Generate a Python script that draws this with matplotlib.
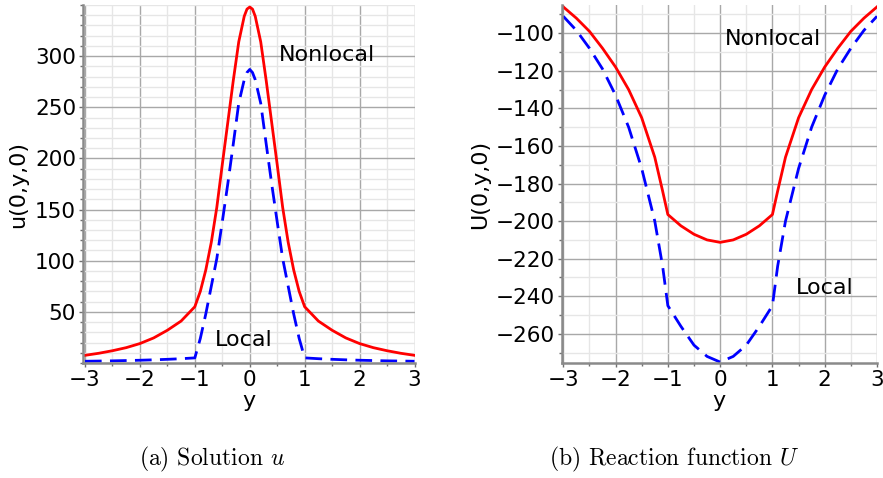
import matplotlib
matplotlib.use("Agg")
import matplotlib.pyplot as plt
from matplotlib.ticker import FixedLocator, MultipleLocator

# panel (a): solution u(0, y, 0)
y_u = [-3.0, -2.75, -2.5, -2.25, -2.0, -1.75, -1.5, -1.25,
       -1.0, -0.9, -0.8, -0.7, -0.6, -0.5, -0.4, -0.3, -0.2, -0.1, -0.05,
       0.0, 0.05, 0.1, 0.2, 0.3, 0.4, 0.5, 0.6, 0.7, 0.8, 0.9, 1.0,
       1.25, 1.5, 1.75, 2.0, 2.25, 2.5, 2.75, 3.0]
u_nonlocal = [7.5, 9.5, 12, 15, 19, 24.5, 32, 41,
              55, 70, 91, 118, 152, 194, 235, 276, 314, 339, 346,
              348, 346, 339, 314, 276, 235, 194, 152, 118, 91, 70, 55,
              41, 32, 24.5, 19, 15, 12, 9.5, 7.5]
u_local = [1.7, 1.9, 2.1, 2.4, 2.7, 3.1, 3.6, 4.2,
           5, 24, 48, 75, 102, 138, 175, 214, 254, 277, 284,
           287, 284, 277, 254, 214, 175, 138, 102, 75, 48, 24, 5,
           4.2, 3.6, 3.1, 2.7, 2.4, 2.1, 1.9, 1.7]

# panel (b): reaction function U(0, y, 0)
y_U = [-3.0, -2.75, -2.5, -2.25, -2.0, -1.75, -1.5, -1.25, -1.1,
       -1.0, -0.75, -0.5, -0.25, 0.0, 0.25, 0.5, 0.75, 1.0,
       1.1, 1.25, 1.5, 1.75, 2.0, 2.25, 2.5, 2.75, 3.0]
U_nonlocal = [-86, -92, -99, -108, -118, -130, -145, -166, -184,
              -196.5, -202.5, -207, -210, -211.3, -210, -207, -202.5, -196.5,
              -184, -166, -145, -130, -118, -108, -99, -92, -86]
U_local = [-91, -98.5, -108, -119, -133, -150, -172, -200, -224,
           -245, -256, -266, -272, -275, -272, -266, -256, -245,
           -224, -200, -172, -150, -133, -119, -108, -98.5, -91]

u_yticks = [50, 100, 150, 200, 250, 300]
U_yticks = [-100, -120, -140, -160, -180, -200, -220, -240, -260]
x_ticks = [-3, -2, -1, 0, 1, 2, 3]

plt.rcParams["mathtext.fontset"] = "cm"

W, H = 883, 478
fig = plt.figure(figsize=(W / 100, H / 100), dpi=100)
ax1 = fig.add_axes([83 / W, 115 / H, 331.5 / W, 358 / H])
ax2 = fig.add_axes([561.7 / W, 115 / H, 315.3 / W, 358 / H])


def style_axes(ax, yticks, ylim, xlim_left):
    ax.set_xlim(xlim_left, 3.0)
    ax.set_ylim(*ylim)
    ax.xaxis.set_major_locator(FixedLocator(x_ticks))
    ax.xaxis.set_minor_locator(MultipleLocator(0.5))
    ax.yaxis.set_major_locator(FixedLocator(yticks))
    ax.yaxis.set_minor_locator(MultipleLocator(10))
    ax.grid(True, which="major", color="#a8a8a8", linewidth=1.0)
    ax.grid(True, which="minor", color="#e6e6e6", linewidth=1.0)
    ax.set_axisbelow(True)
    for side in ("top", "right"):
        ax.spines[side].set_visible(False)
    for side in ("left", "bottom"):
        ax.spines[side].set_color("#8a8a8a")
        ax.spines[side].set_linewidth(1.8)
    ax.tick_params(which="major", length=3, width=1, color="#707070",
                   labelsize=15.5, pad=2)
    ax.tick_params(which="minor", length=2, width=1, color="#707070")
    ax.set_xlabel("y", fontsize=16, labelpad=1)


ax1.plot(y_u, u_nonlocal, color="red", linewidth=2.0)
ax1.plot(y_u, u_local, color="blue", linewidth=2.0, linestyle=(0, (6, 3)))
style_axes(ax1, u_yticks, (0, 350), -3.036)
ax1.set_ylabel("u(0,y,0)", fontsize=16, labelpad=5)
ax1.text(0.53, 301, "Nonlocal", fontsize=16, va="center", ha="left")
ax1.text(-0.64, 22.5, "Local", fontsize=16, va="center", ha="left")

ax2.plot(y_U, U_nonlocal, color="red", linewidth=2.0)
ax2.plot(y_U, U_local, color="blue", linewidth=2.0, linestyle=(0, (6, 3)))
style_axes(ax2, U_yticks, (-275.5, -85), -3.03)
ax2.set_ylabel("U(0,y,0)", fontsize=16, labelpad=4)
ax2.text(0.086, -103.2, "Nonlocal", fontsize=16, va="center", ha="left")
ax2.text(1.45, -235.6, "Local", fontsize=16, va="center", ha="left")

fig.text(212 / W, 1 - 459 / H, r"(a) Solution $u$", fontsize=17,
         family="cmr10", ha="center", va="center")
fig.text(674 / W, 1 - 459 / H, r"(b) Reaction function $U$", fontsize=17,
         family="cmr10", ha="center", va="center")

fig.savefig("out.png", dpi=100)
